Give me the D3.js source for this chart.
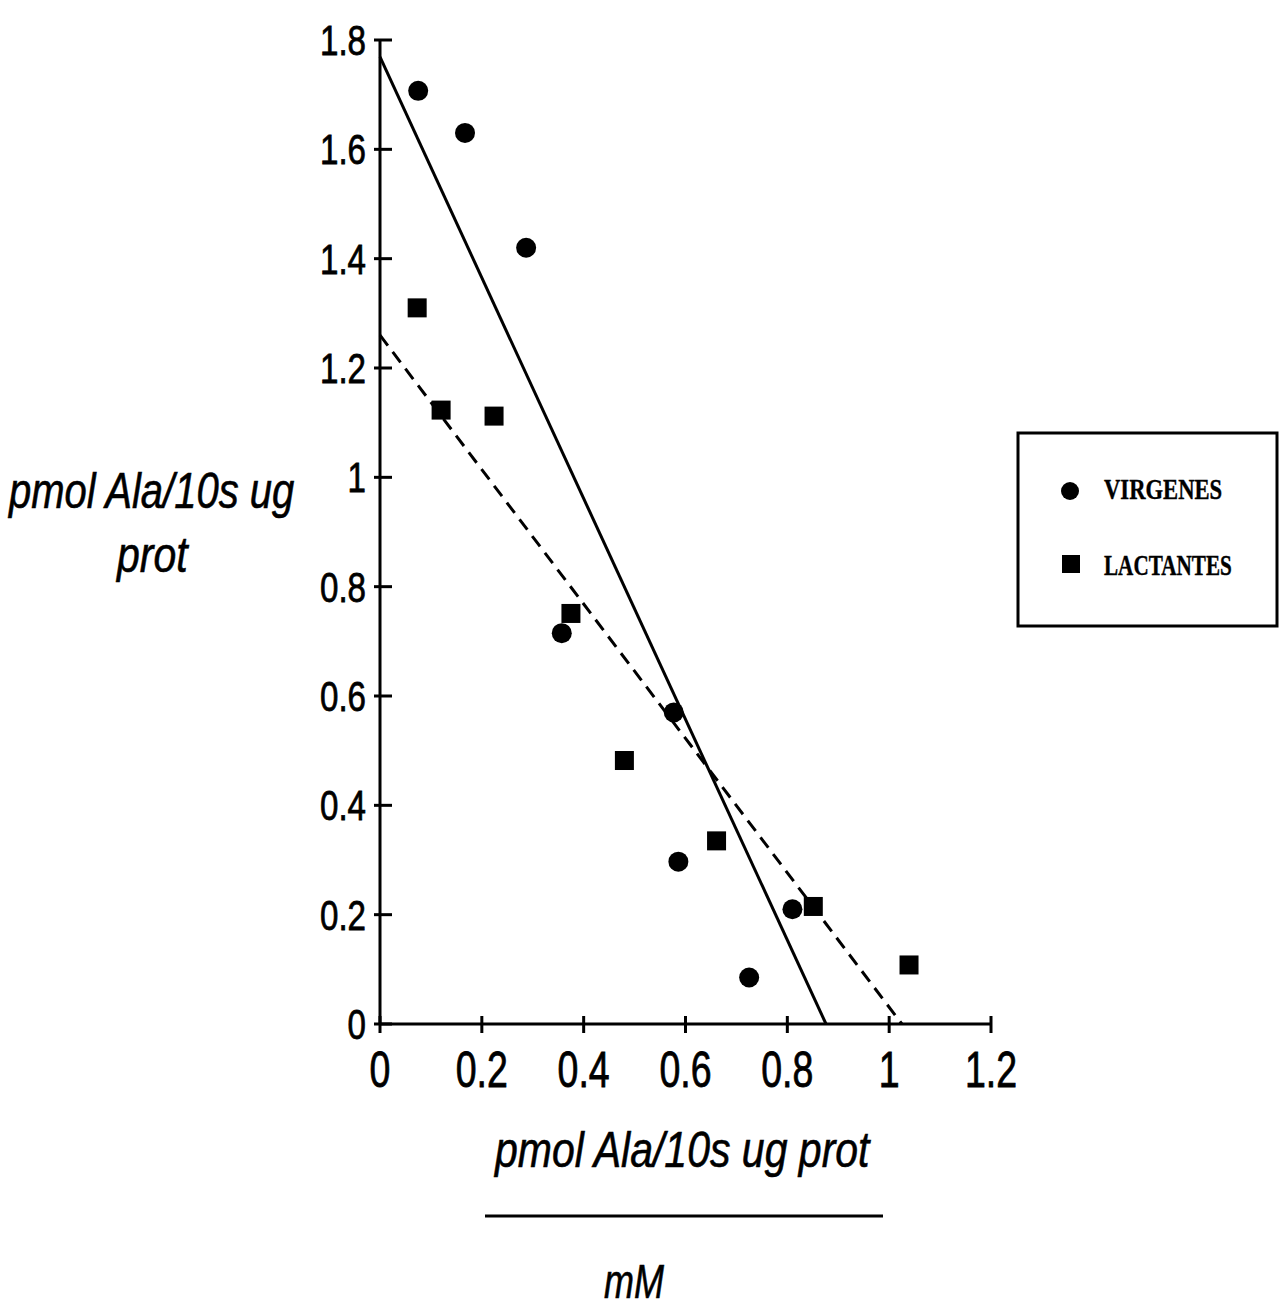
<!DOCTYPE html>
<html>
<head>
<meta charset="utf-8">
<script src="https://cdn.jsdelivr.net/npm/d3@7"></script>
<style>
  body { margin: 0; background: #fff; }
  .axis-line { stroke: #000; stroke-width: 3; fill: none; }
  .tick-label { font-family: "Liberation Sans", Arial, sans-serif; fill: #000; stroke: #000; stroke-width: 0.8; }
  .axis-label { font-family: "Liberation Sans", Arial, sans-serif; font-style: italic; fill: #000; stroke: #000; stroke-width: 0.6; }
  .legend-text { font-family: "Liberation Serif", serif; font-weight: bold; fill: #000; stroke: #000; stroke-width: 0.4; }
</style>
</head>
<body>
<div id="chart"></div>
<script>
// values
var virgenesX = [0.075, 0.167, 0.287, 0.357, 0.577, 0.586, 0.725, 0.810];
var virgenesY = [1.707, 1.630, 1.420, 0.715, 0.570, 0.297, 0.085, 0.210];
var lactantesX = [0.073, 0.120, 0.224, 0.375, 0.480, 0.661, 0.851, 1.039];
var lactantesY = [1.310, 1.123, 1.112, 0.751, 0.482, 0.335, 0.215, 0.108];

// fitted lines: [y-intercept, x-intercept]
var virgenesFit = [1.769, 0.876];
var lactantesFit = [1.260, 1.025];

var xTicks = [0, 0.2, 0.4, 0.6, 0.8, 1, 1.2];
var yTicks = [0, 0.2, 0.4, 0.6, 0.8, 1, 1.2, 1.4, 1.6, 1.8];
var seriesNames = ["VIRGENES", "LACTANTES"];

function init() {
  var w = 1288;
  var h = 1310;

  var svg = d3.select("#chart")
    .append("svg")
    .attr("width", w)
    .attr("height", h);

  var xScale = d3.scaleLinear().domain([0, 1.2]).range([380, 991]);
  var yScale = d3.scaleLinear().domain([0, 1.8]).range([1024, 40]);

  // narrow face: squeeze text around its anchor point
  var squeeze = function(x, y, f) {
    return "translate(" + x + "," + y + ") scale(" + f + ",1)";
  };

  // axes
  svg.append("line")
    .attr("class", "axis-line")
    .attr("x1", xScale(0)).attr("y1", yScale(0))
    .attr("x2", xScale(1.2) + 1).attr("y2", yScale(0));

  svg.append("line")
    .attr("class", "axis-line")
    .attr("x1", xScale(0)).attr("y1", yScale(0) + 1)
    .attr("x2", xScale(0)).attr("y2", yScale(1.8));

  svg.selectAll(".xtick")
    .data(xTicks)
    .enter()
    .append("line")
    .attr("class", "axis-line xtick")
    .attr("x1", function(d) { return xScale(d); })
    .attr("x2", function(d) { return xScale(d); })
    .attr("y1", yScale(0) - 8)
    .attr("y2", yScale(0) + 9);

  svg.selectAll(".ytick")
    .data(yTicks)
    .enter()
    .append("line")
    .attr("class", "axis-line ytick")
    .attr("y1", function(d) { return yScale(d); })
    .attr("y2", function(d) { return yScale(d); })
    .attr("x1", xScale(0) - 6)
    .attr("x2", xScale(0) + 12);

  svg.selectAll(".xlab")
    .data(xTicks)
    .enter()
    .append("text")
    .attr("class", "tick-label xlab")
    .attr("transform", function(d) { return squeeze(xScale(d), 1087, 0.75); })
    .attr("text-anchor", "middle")
    .style("font-size", "50px")
    .text(function(d) { return String(d); });

  svg.selectAll(".ylab")
    .data(yTicks)
    .enter()
    .append("text")
    .attr("class", "tick-label ylab")
    .attr("transform", function(d) { return squeeze(366, yScale(d) + 15, 0.77); })
    .attr("text-anchor", "end")
    .style("font-size", "43px")
    .text(function(d) { return String(d); });

  // fit lines
  var fitLine = function(fit) {
    return [[0, fit[0]], [fit[1], 0]];
  };
  var line = d3.line()
    .x(function(d) { return xScale(d[0]); })
    .y(function(d) { return yScale(d[1]); });

  svg.append("path")
    .datum(fitLine(virgenesFit))
    .attr("d", line)
    .attr("fill", "none")
    .attr("stroke", "#000")
    .attr("stroke-width", 3);

  svg.append("path")
    .datum(fitLine(lactantesFit))
    .attr("d", line)
    .attr("fill", "none")
    .attr("stroke", "#000")
    .attr("stroke-width", 3)
    .attr("stroke-dasharray", "13,8");

  // points
  svg.selectAll(".virg")
    .data(d3.range(virgenesX.length))
    .enter()
    .append("circle")
    .attr("class", "virg")
    .attr("cx", function(i) { return xScale(virgenesX[i]); })
    .attr("cy", function(i) { return yScale(virgenesY[i]); })
    .attr("r", 10)
    .attr("fill", "#000");

  var sq = 19;
  svg.selectAll(".lact")
    .data(d3.range(lactantesX.length))
    .enter()
    .append("rect")
    .attr("class", "lact")
    .attr("x", function(i) { return xScale(lactantesX[i]) - sq / 2; })
    .attr("y", function(i) { return yScale(lactantesY[i]) - sq / 2; })
    .attr("width", sq)
    .attr("height", sq)
    .attr("fill", "#000");

  // axis titles
  svg.append("text")
    .attr("class", "axis-label")
    .attr("transform", squeeze(9, 508, 0.80))
    .style("font-size", "50px")
    .text("pmol Ala/10s ug");

  svg.append("text")
    .attr("class", "axis-label")
    .attr("transform", squeeze(117, 572, 0.82))
    .style("font-size", "50px")
    .text("prot");

  svg.append("text")
    .attr("class", "axis-label")
    .attr("transform", squeeze(495, 1167, 0.82))
    .style("font-size", "50px")
    .text("pmol Ala/10s ug prot");

  svg.append("line")
    .attr("x1", 485).attr("y1", 1216)
    .attr("x2", 883).attr("y2", 1216)
    .attr("stroke", "#000")
    .attr("stroke-width", 3);

  svg.append("text")
    .attr("class", "axis-label")
    .attr("transform", squeeze(604, 1298, 0.75))
    .style("font-size", "48px")
    .text("mM");

  // legend
  var legend = svg.append("g");
  legend.append("rect")
    .attr("x", 1018).attr("y", 433)
    .attr("width", 259).attr("height", 193)
    .attr("fill", "none")
    .attr("stroke", "#000")
    .attr("stroke-width", 3);

  legend.append("circle")
    .attr("cx", 1070).attr("cy", 491)
    .attr("r", 9)
    .attr("fill", "#000");

  legend.append("rect")
    .attr("x", 1062).attr("y", 555)
    .attr("width", 18).attr("height", 18)
    .attr("fill", "#000");

  legend.selectAll(".legend-text")
    .data(seriesNames)
    .enter()
    .append("text")
    .attr("class", "legend-text")
    .attr("transform", function(d, i) { return squeeze(1104, i === 0 ? 499 : 575, i === 0 ? 0.78 : 0.73); })
    .style("font-size", "29px")
    .text(function(d) { return d; });
}

window.onload = init;
</script>
</body>
</html>
